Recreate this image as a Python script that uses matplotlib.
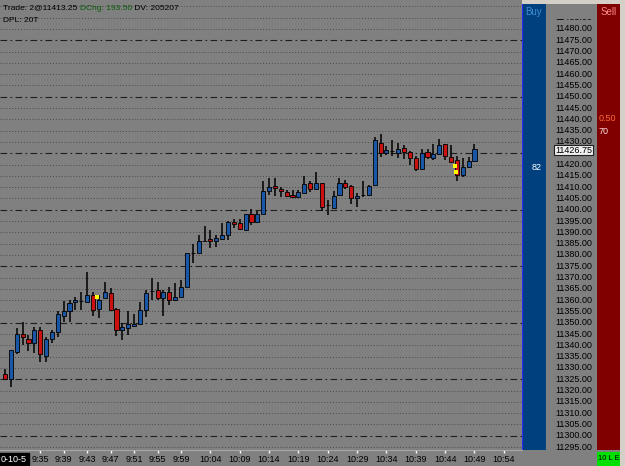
import matplotlib
matplotlib.use("Agg")
import matplotlib.pyplot as plt
import numpy as np

plt.rcParams["font.family"] = "Liberation Sans"
plt.rcParams["font.size"] = 6.5

# one-bar OHLC
opens = [11327.25, 11325.25, 11337.25, 11345.25, 11343.0, 11341.0, 11346.75, 11335.25, 11342.75, 11345.75,
         11353.0, 11355.25, 11359.25, 11359.75, 11359.25, 11362.25, 11356.0, 11361.0, 11363.0, 11356.0,
         11346.75, 11347.5, 11348.75, 11349.25, 11355.5, 11364.0, 11364.5, 11361.0, 11363.75, 11360.0,
         11361.5, 11366.0, 11380.75, 11380.75, 11386.25, 11387.0, 11386.25, 11387.0, 11388.75, 11394.75,
         11394.0, 11391.25, 11398.0, 11394.5, 11398.0, 11408.5, 11410.5, 11409.25, 11407.75, 11406.5,
         11405.75, 11407.5, 11411.75, 11409.0, 11412.0, 11402.0, 11401.0, 11406.5, 11412.0, 11410.5,
         11405.0, 11406.5, 11406.5, 11410.75, 11429.75, 11425.0, 11426.0, 11425.25, 11427.5, 11425.5,
         11422.75, 11418.25, 11425.5, 11422.75, 11424.75, 11429.0, 11423.5, 11422.0, 11415.5, 11419.0,
         11421.75]
highs = [11329.5, 11338.0, 11347.75, 11350.25, 11344.5, 11348.0, 11348.0, 11343.75, 11347.0, 11355.0,
         11359.5, 11360.0, 11361.5, 11363.75, 11372.25, 11363.75, 11362.25, 11368.0, 11365.25, 11356.5,
         11349.75, 11355.0, 11354.0, 11359.25, 11364.5, 11370.0, 11368.0, 11364.5, 11366.0, 11367.5,
         11369.0, 11380.75, 11385.0, 11389.0, 11393.0, 11391.0, 11389.0, 11394.0, 11395.0, 11396.0,
         11396.0, 11398.0, 11400.25, 11399.25, 11412.75, 11414.25, 11414.25, 11410.25, 11408.75, 11408.75,
         11408.75, 11415.0, 11412.75, 11416.75, 11412.0, 11404.25, 11408.25, 11414.25, 11413.0, 11411.0,
         11407.25, 11412.75, 11411.0, 11432.0, 11433.5, 11428.25, 11431.0, 11429.5, 11428.5, 11426.0,
         11423.75, 11426.75, 11426.75, 11429.0, 11431.25, 11429.0, 11428.5, 11423.75, 11423.0, 11423.5,
         11429.0]
lows = [11325.0, 11321.75, 11336.25, 11340.0, 11337.5, 11336.75, 11332.5, 11332.75, 11341.0, 11343.75,
        11350.25, 11350.25, 11355.5, 11355.5, 11359.25, 11353.0, 11352.25, 11360.75, 11355.25, 11344.0,
        11342.25, 11344.5, 11348.25, 11349.25, 11352.5, 11360.0, 11360.0, 11353.0, 11358.0, 11359.5,
        11361.5, 11366.0, 11376.5, 11380.75, 11386.0, 11383.25, 11383.5, 11386.5, 11386.5, 11392.0,
        11391.0, 11391.0, 11393.25, 11394.0, 11398.0, 11406.5, 11406.25, 11405.75, 11405.75, 11405.25,
        11405.25, 11407.5, 11408.0, 11408.75, 11399.5, 11397.75, 11401.0, 11406.25, 11409.25, 11402.5,
        11401.25, 11405.5, 11406.0, 11410.75, 11423.5, 11424.25, 11423.75, 11423.0, 11422.25, 11419.75,
        11417.25, 11418.25, 11422.25, 11422.0, 11424.25, 11422.0, 11421.25, 11412.75, 11414.5, 11418.75,
        11421.25]
closes = [11325.0, 11338.0, 11345.25, 11343.75, 11341.25, 11346.75, 11336.25, 11342.75, 11346.0, 11353.75,
          11355.25, 11358.75, 11360.25, 11359.75, 11362.25, 11355.5, 11360.0, 11363.5, 11355.5, 11347.0,
          11348.25, 11349.25, 11349.25, 11355.5, 11363.25, 11364.0, 11361.0, 11363.5, 11360.0, 11361.5,
          11366.0, 11380.75, 11380.75, 11386.25, 11386.25, 11386.25, 11387.5, 11388.75, 11394.75, 11393.75,
          11391.5, 11398.0, 11394.75, 11398.0, 11408.25, 11410.25, 11409.75, 11408.25, 11406.0, 11405.75,
          11407.75, 11411.25, 11409.0, 11412.0, 11401.25, 11402.0, 11406.0, 11411.75, 11410.25, 11405.0,
          11406.25, 11406.5, 11410.5, 11430.75, 11425.0, 11426.5, 11426.0, 11426.75, 11425.5, 11423.0,
          11418.0, 11425.25, 11423.5, 11424.75, 11428.5, 11423.75, 11421.25, 11415.5, 11419.0, 11421.75,
          11426.75]

time_ticks = [6, 10, 14, 18, 22, 26, 30, 35, 40, 45, 50, 55, 60, 65, 70, 75, 80, 85]
time_labels = ["9:35", "9:39", "9:43", "9:47", "9:51", "9:55", "9:59", "10:04", "10:09", "10:14",
               "10:19", "10:24", "10:29", "10:34", "10:39", "10:44", "10:49", "10:54"]

# yellow trade marks (bar, price)
marks_x = [15.7, 76.7, 76.9]
marks_y = [11361.5, 11419.5, 11416.5]

last_price = 11426.75
buy_vol = "82"
sell_vals = ["0.50", "70"]

W, H = 625, 466
BG = "#808080"
UP = "#1a56a6"
DN = "#cc1111"
Y_TOP, Y_BOT = 11492.83, 11293.7   # prices at pixel rows 0 and 450

fig = plt.figure(figsize=(W / 100, H / 100), dpi=100, facecolor=BG)


def px_axes(x0, y0, x1, y1):
    return fig.add_axes([x0 / W, 1 - y1 / H, (x1 - x0) / W, (y1 - y0) / H])


ax = px_axes(0, 0, 522, 450)
ax.set_facecolor(BG)
ax.set_ylim(Y_BOT, Y_TOP)
ax.set_xlim(-0.85, 88.1)

# grid lines
for p in np.arange(11295, 11495, 5):
    if p % 25 == 0:
        ax.axhline(p, color="#1e1e1e", lw=0.8, ls=(0, (6, 3, 1.5, 3)), zorder=1)
    else:
        ax.axhline(p, color="#4a4a4a", lw=0.7, ls=(0, (1, 2)), zorder=1)

o = np.array(opens)
h = np.array(highs)
l = np.array(lows)
c = np.array(closes)
idx = np.arange(len(o))
cols = np.where(c > o, UP, np.where(c < o, DN, "black"))

ax.vlines(idx, l, h, color="black", lw=1.1, zorder=2)
ax.bar(idx, np.abs(c - o), bottom=np.minimum(o, c), width=0.7, color=cols,
       edgecolor="black", linewidth=0.6, zorder=3)
ax.scatter(marks_x, marks_y, marker="s", s=7, color="#ffff00", zorder=4, linewidths=0)

ax.set_yticks([])
ax.set_xticks(time_ticks)
ax.set_xticklabels(time_labels)
ax.tick_params(axis="x", length=2, width=1, color="white", pad=1.5, labelcolor="black")
for s in ["top", "left", "right"]:
    ax.spines[s].set_visible(False)
ax.spines["bottom"].set_color("#a8a8a8")

# header text
t1 = ax.text(3 / 522, 1 - 8 / 450, "Trade: 2@11413.25 ", transform=ax.transAxes,
             va="center", ha="left", color="black", fontsize=6)
t2 = ax.annotate("DChg: 193.50", xy=(1, 0), xycoords=t1, va="bottom", ha="left",
                 color="#0a5a0a", fontsize=6)
ax.annotate(" DV: 205207", xy=(1, 0), xycoords=t2, va="bottom", ha="left", color="black",
            fontsize=6)
ax.text(3 / 522, 1 - 20 / 450, "DPL: 20T", transform=ax.transAxes, va="center", ha="left",
        fontsize=6)

# buy panel
axb = px_axes(522, 4, 546, 450)
axb.set_facecolor("#00407f")
axb.set_xticks([])
axb.set_yticks([])
for s in axb.spines.values():
    s.set_visible(False)
axb.axvline(0, color="#2828ff", lw=1.5)
axb.axvline(1, color="#7a8cc0", lw=0.8)
axb.text(0.5, 1 - 8 / 446, "Buy", transform=axb.transAxes, ha="center", va="center",
         color="#3d8fd6", fontsize=7)
axb.text(0.62, 1 - 163 / 446, buy_vol, transform=axb.transAxes, ha="center", va="center",
         color="white")

# price scale (11425 sits under the last-price box)
axp = px_axes(546, 19, 597, 450)
axp.set_facecolor(BG)
axp.set_xlim(0, 1)
axp.set_ylim(Y_BOT, Y_TOP - 19 * 0.4425)
axp.axis("off")
for p in np.arange(11295, 11490, 5):
    if p == 11425:
        continue
    axp.text(9 / 51, p, f"{p:.2f}", ha="left", va="center", color="black", clip_on=True)
axp.text(9 / 51, last_price - 0.4, f"{last_price:.2f}", ha="left", va="center", color="black",
         bbox=dict(boxstyle="square,pad=0.08", fc="#f0f0f0", ec="#202020", lw=0.8), zorder=5)

# sell panel
axs = px_axes(597, 4, 620, 450)
axs.set_facecolor("#800000")
axs.set_xticks([])
axs.set_yticks([])
for s in axs.spines.values():
    s.set_visible(False)
axs.text(0.5, 1 - 8 / 446, "Sell", transform=axs.transAxes, ha="center", va="center",
         color="#ff8a8a", fontsize=7)
axs.text(0.08, 1 - 114 / 446, sell_vals[0], transform=axs.transAxes, ha="left", va="center",
         color="#ff6a3a")
axs.text(0.08, 1 - 127 / 446, sell_vals[1], transform=axs.transAxes, ha="left", va="center",
         color="#ffe0e0")

# window chrome
top = px_axes(522, 0, 625, 4)
top.axis("off")
top.add_patch(plt.Rectangle((0, 0), 1, 1, transform=top.transAxes, color="#d4d0c8"))
side = px_axes(620, 0, 625, 466)
side.axis("off")
side.add_patch(plt.Rectangle((0, 0), 1, 1, transform=side.transAxes, color="#d4d0c8"))

fig.text(1 / W, 1 - 459 / H, "0-10-5", ha="left", va="center", color="white",
         bbox=dict(boxstyle="square,pad=0.2", fc="black", ec="black"))
green = px_axes(597, 452, 620, 466)
green.set_xticks([])
green.set_yticks([])
green.set_facecolor("#00e000")
for s in green.spines.values():
    s.set_visible(False)
green.text(0.5, 0.5, "10 L E", transform=green.transAxes, ha="center", va="center",
           color="black", fontsize=5.5)

fig.savefig("out.png", dpi=100, facecolor=BG)
